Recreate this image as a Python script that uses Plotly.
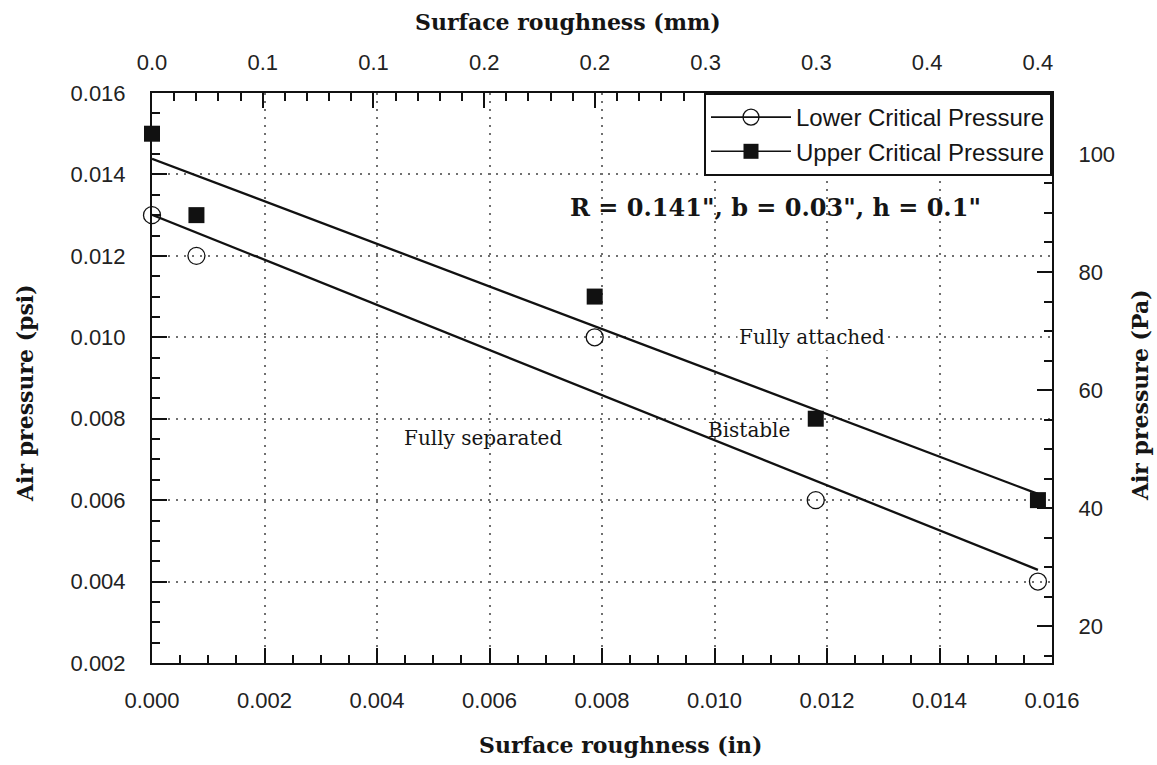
import numpy as np
import plotly.graph_objects as go

# Data (surface roughness in inches, air pressure in psi)
roughness_in = [0.0, 0.00079, 0.00787, 0.0118, 0.01575]
lower_psi = [0.013, 0.012, 0.010, 0.006, 0.004]
upper_psi = [0.015, 0.013, 0.011, 0.008, 0.006]

# Axis ticks
top_mm_ticks = [0.0, 0.05, 0.10, 0.15, 0.20, 0.25, 0.30, 0.35, 0.40]
top_mm_labels = ["0.0", "0.1", "0.1", "0.2", "0.2", "0.3", "0.3", "0.4", "0.4"]
bottom_ticks = [0.000, 0.002, 0.004, 0.006, 0.008, 0.010, 0.012, 0.014, 0.016]
left_ticks = [0.002, 0.004, 0.006, 0.008, 0.010, 0.012, 0.014, 0.016]
right_ticks = [20, 40, 60, 80, 100]

MM_PER_IN = 25.4
PA_PER_PSI = 6894.757
xr = [0.0, 0.016]
yr = [0.002, 0.016]

# least-squares trend lines through each series
lo_fit = np.polyfit(roughness_in, lower_psi, 1)
up_fit = np.polyfit(roughness_in, upper_psi, 1)
fit_x = [roughness_in[0], roughness_in[-1]]

SERIF = "DejaVu Serif"
SANS = "Liberation Sans"
TICKFONT = dict(family=SANS, size=22, color="#222")
TITLEFONT = dict(family=SERIF, size=22, color="#151515", weight="bold")
INK = "#111"

fig = go.Figure()

fig.add_trace(go.Scatter(x=fit_x, y=list(np.polyval(up_fit, fit_x)), mode="lines",
                         line=dict(color=INK, width=2.3), showlegend=False, hoverinfo="skip"))
fig.add_trace(go.Scatter(x=fit_x, y=list(np.polyval(lo_fit, fit_x)), mode="lines",
                         line=dict(color=INK, width=2.3), showlegend=False, hoverinfo="skip"))
fig.add_trace(go.Scatter(x=roughness_in, y=lower_psi, mode="markers", showlegend=False, cliponaxis=False,
                         marker=dict(symbol="circle-open", size=17, color=INK, line=dict(width=1.3))))
fig.add_trace(go.Scatter(x=roughness_in, y=upper_psi, mode="markers", showlegend=False, cliponaxis=False,
                         marker=dict(symbol="square", size=16, color=INK)))
# legend entries
fig.add_trace(go.Scatter(x=[None], y=[None], mode="lines+markers", name="Lower Critical Pressure",
                         line=dict(color=INK, width=1.6),
                         marker=dict(symbol="circle-open", size=16, color=INK, line=dict(width=1.3))))
fig.add_trace(go.Scatter(x=[None], y=[None], mode="lines+markers", name="Upper Critical Pressure",
                         line=dict(color=INK, width=1.6),
                         marker=dict(symbol="square", size=15, color=INK)))
# invisible traces to activate the secondary axes
fig.add_trace(go.Scatter(x=[None], y=[None], xaxis="x2", yaxis="y", showlegend=False, hoverinfo="skip"))
fig.add_trace(go.Scatter(x=[None], y=[None], xaxis="x", yaxis="y2", showlegend=False, hoverinfo="skip"))

grid = dict(showgrid=True, gridcolor="#707070", griddash="2px,6px", gridwidth=1.5)
major = dict(ticks="inside", ticklen=15, tickwidth=2, tickcolor=INK,
             showline=True, linecolor=INK, linewidth=2, zeroline=False)
minor_style = dict(ticks="inside", ticklen=8, tickcolor=INK, tickwidth=1.8, showgrid=False)

fig.update_layout(
    width=1157, height=765,
    margin=dict(l=152, r=105, t=93, b=102),
    paper_bgcolor="white", plot_bgcolor="white",
    xaxis=dict(range=xr, tickmode="array", tickvals=bottom_ticks,
               ticktext=[f"{v:.3f}" for v in bottom_ticks], tickfont=TICKFONT,
               ticklabelstandoff=17,
               minor=dict(dtick=0.0005, tick0=0, **minor_style), **major, **grid),
    xaxis2=dict(range=xr, overlaying="x", side="top", tickmode="array",
                tickvals=[v / MM_PER_IN for v in top_mm_ticks], ticktext=top_mm_labels,
                tickfont=TICKFONT, ticklabelstandoff=12, showgrid=False,
                minor=dict(tickmode="array", tickvals=[i * 0.01 / MM_PER_IN for i in range(41)], **minor_style),
                **major),
    yaxis=dict(range=yr, tickmode="array", tickvals=left_ticks,
               ticktext=[f"{v:.3f}" for v in left_ticks], tickfont=TICKFONT,
               ticklabelstandoff=20,
               minor=dict(dtick=0.0005, tick0=0, **minor_style), **major, **grid),
    yaxis2=dict(range=[yr[0] * PA_PER_PSI, yr[1] * PA_PER_PSI], overlaying="y", side="right",
                tickmode="array", tickvals=right_ticks, ticktext=[str(v) for v in right_ticks],
                tickfont=TICKFONT, ticklabelstandoff=20, showgrid=False,
                minor=dict(dtick=5, tick0=0, **minor_style), **major),
    legend=dict(x=1, y=1, xanchor="right", yanchor="top", bgcolor="white",
                bordercolor=INK, borderwidth=2, font=dict(family=SANS, size=24, color="#151515"),
                tracegroupgap=0, itemwidth=80),
    showlegend=True,
)

# axis titles
fig.add_annotation(text="Surface roughness (in)", xref="paper", yref="paper", x=0.521, y=-0.1439,
                   xanchor="center", yanchor="middle", showarrow=False, font=TITLEFONT)
fig.add_annotation(text="Surface roughness (mm)", xref="paper", yref="paper", x=0.462, y=1.1246,
                   xanchor="center", yanchor="middle", showarrow=False, font=TITLEFONT)
fig.add_annotation(text="Air pressure (psi)", xref="paper", yref="paper", x=-0.1411, y=0.4737,
                   xanchor="center", yanchor="middle", showarrow=False, textangle=-90, font=TITLEFONT)
fig.add_annotation(text="Air pressure (Pa)", xref="paper", yref="paper", x=1.0978, y=0.470,
                   xanchor="center", yanchor="middle", showarrow=False, textangle=-90, font=TITLEFONT)

# in-plot labels
fig.add_annotation(x=0.01109, y=0.01320, xref="x", yref="y", showarrow=False,
                   text="R = 0.141\", b = 0.03\", h = 0.1\"",
                   font=dict(family=SERIF, size=24, color="#151515", weight="bold"))
fig.add_annotation(x=0.01173, y=0.01000, xref="x", yref="y", showarrow=False,
                   text="Fully attached", font=dict(family=SERIF, size=20, color="#151515"),
                   bgcolor="white")
fig.add_annotation(x=0.00588, y=0.00753, xref="x", yref="y", showarrow=False,
                   text="Fully separated", font=dict(family=SERIF, size=20, color="#151515"))
fig.add_annotation(x=0.01061, y=0.00773, xref="x", yref="y", showarrow=False,
                   text="Bistable", font=dict(family=SERIF, size=20, color="#151515"))

fig.write_html("out.html")
